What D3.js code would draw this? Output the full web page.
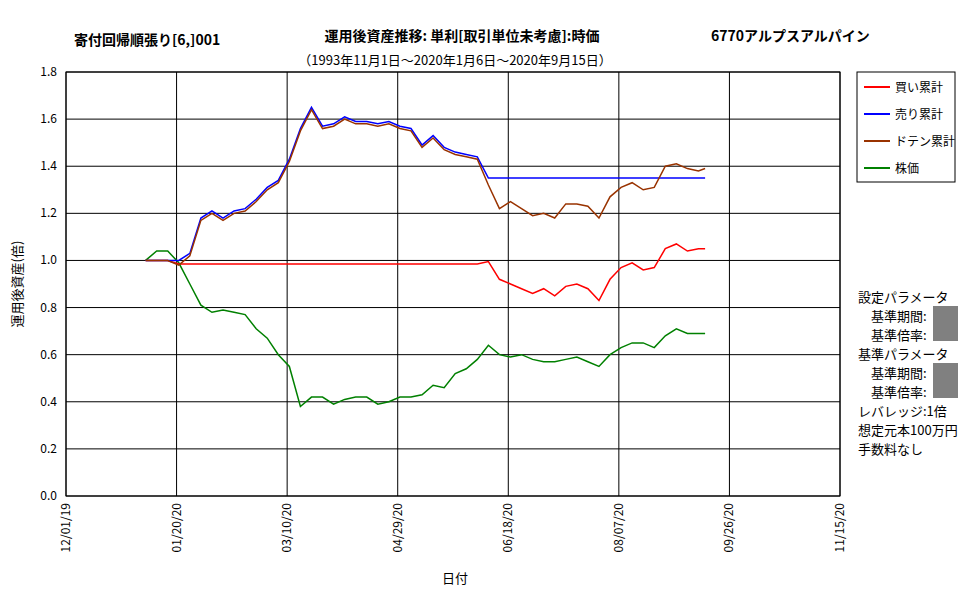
<!DOCTYPE html>
<html><head><meta charset="utf-8">
<script src="https://cdn.jsdelivr.net/npm/d3@7"></script>
<style>body{margin:0;background:#fff;font-family:"Noto Sans CJK JP",sans-serif}</style>
</head><body>
<script>
const dates = ["2020-01-06","2020-01-11","2020-01-16","2020-01-21","2020-01-26","2020-01-31","2020-02-05","2020-02-10","2020-02-15","2020-02-20","2020-02-25","2020-03-01","2020-03-06","2020-03-11","2020-03-16","2020-03-21","2020-03-26","2020-03-31","2020-04-05","2020-04-10","2020-04-15","2020-04-20","2020-04-25","2020-04-30","2020-05-05","2020-05-10","2020-05-15","2020-05-20","2020-05-25","2020-05-30","2020-06-04","2020-06-09","2020-06-14","2020-06-19","2020-06-24","2020-06-29","2020-07-04","2020-07-09","2020-07-14","2020-07-19","2020-07-24","2020-07-29","2020-08-03","2020-08-08","2020-08-13","2020-08-18","2020-08-23","2020-08-28","2020-09-02","2020-09-07","2020-09-12","2020-09-15"];
const buy = [1.00,1.00,1.00,0.985,0.985,0.985,0.985,0.985,0.985,0.985,0.985,0.985,0.985,0.985,0.985,0.985,0.985,0.985,0.985,0.985,0.985,0.985,0.985,0.985,0.985,0.985,0.985,0.985,0.985,0.985,0.985,0.995,0.92,0.90,0.88,0.86,0.88,0.85,0.89,0.90,0.88,0.83,0.92,0.97,0.99,0.96,0.97,1.05,1.07,1.04,1.05,1.05];
const sell = [1.00,1.00,1.00,1.00,1.03,1.18,1.21,1.18,1.21,1.22,1.26,1.31,1.34,1.43,1.56,1.65,1.57,1.58,1.61,1.59,1.59,1.58,1.59,1.57,1.56,1.49,1.53,1.48,1.46,1.45,1.44,1.35,1.35,1.35,1.35,1.35,1.35,1.35,1.35,1.35,1.35,1.35,1.35,1.35,1.35,1.35,1.35,1.35,1.35,1.35,1.35,1.35];
const doten = [1.00,1.00,1.00,0.98,1.02,1.17,1.20,1.17,1.20,1.21,1.25,1.30,1.33,1.42,1.55,1.64,1.56,1.57,1.60,1.58,1.58,1.57,1.58,1.56,1.55,1.48,1.52,1.47,1.45,1.44,1.43,1.32,1.22,1.25,1.22,1.19,1.20,1.18,1.24,1.24,1.23,1.18,1.27,1.31,1.33,1.30,1.31,1.40,1.41,1.39,1.38,1.39];
const price = [1.00,1.04,1.04,0.99,0.90,0.81,0.78,0.79,0.78,0.77,0.71,0.67,0.60,0.55,0.38,0.42,0.42,0.39,0.41,0.42,0.42,0.39,0.40,0.42,0.42,0.43,0.47,0.46,0.52,0.54,0.58,0.64,0.60,0.59,0.60,0.58,0.57,0.57,0.58,0.59,0.57,0.55,0.60,0.63,0.65,0.65,0.63,0.68,0.71,0.69,0.69,0.69];
const seriesNames = ["買い累計","売り累計","ドテン累計","株価"];
const seriesColors = ["#ff0000","#0000ff","#993300","#008000"];
const xTicks = ["2019-12-01","2020-01-20","2020-03-10","2020-04-29","2020-06-18","2020-08-07","2020-09-26","2020-11-15"];
const yTicks = [0,0.2,0.4,0.6,0.8,1.0,1.2,1.4,1.6,1.8];
const panelLines = ["設定パラメータ","　基準期間:","　基準倍率:","基準パラメータ","　基準期間:","　基準倍率:","レバレッジ:1倍","想定元本100万円","手数料なし"];

const W = 977, H = 600;
const svg = d3.select("body").append("svg").attr("width", W).attr("height", H);
const parse = d3.timeParse("%Y-%m-%d");
const x = d3.scaleTime().domain([parse(xTicks[0]), parse(xTicks[xTicks.length - 1])]).range([66, 840]);
const y = d3.scaleLinear().domain([0, 1.8]).range([496, 72]);

// grid
svg.append("g").selectAll("line").data(yTicks).join("line")
  .attr("x1", 66).attr("x2", 840).attr("y1", d => y(d)).attr("y2", d => y(d)).attr("stroke", "#000");
svg.append("g").selectAll("line").data(xTicks).join("line")
  .attr("y1", 72).attr("y2", 496).attr("x1", d => x(parse(d))).attr("x2", d => x(parse(d))).attr("stroke", "#000");
svg.append("rect").attr("x", 66).attr("y", 72).attr("width", 774).attr("height", 424).attr("fill", "none").attr("stroke", "#000");

svg.append("g").selectAll("text").data(yTicks).join("text")
  .attr("x", 57).attr("y", d => y(d) + 4).attr("text-anchor", "end").attr("font-size", 12).text(d => d.toFixed(1));
const fmt = d3.timeFormat("%m/%d/%y");
svg.append("g").selectAll("text").data(xTicks).join("text")
  .attr("transform", d => `translate(${x(parse(d)) + 4},503) rotate(-90)`)
  .attr("text-anchor", "end").attr("font-size", 12).text(d => fmt(parse(d)));

const data = [buy, sell, doten, price];
const line = d3.line().x((d, i) => x(parse(dates[i]))).y(d => y(d));
[3, 0, 1, 2].forEach(k => {
  svg.append("path").attr("d", line(data[k])).attr("fill", "none")
    .attr("stroke", seriesColors[k]).attr("stroke-width", 1.5);
});

// titles
svg.append("text").attr("x", 74).attr("y", 45).attr("font-size", 14).attr("font-weight", "bold").text("寄付回帰順張り[6,]001");
svg.append("text").attr("x", 462).attr("y", 41).attr("text-anchor", "middle").attr("font-size", 14).attr("font-weight", "bold").text("運用後資産推移: 単利[取引単位未考慮]:時価");
svg.append("text").attr("x", 455).attr("y", 65).attr("text-anchor", "middle").attr("font-size", 13).text("（1993年11月1日～2020年1月6日～2020年9月15日）");
svg.append("text").attr("x", 711).attr("y", 41).attr("font-size", 14).attr("font-weight", "bold").text("6770アルプスアルパイン");
svg.append("text").attr("x", 455).attr("y", 583).attr("text-anchor", "middle").attr("font-size", 13).text("日付");
svg.append("text").attr("transform", "translate(22,284) rotate(-90)").attr("text-anchor", "middle").attr("font-size", 13).text("運用後資産(倍)");

// legend
svg.append("rect").attr("x", 857).attr("y", 72).attr("width", 98).attr("height", 110).attr("fill", "#fff").attr("stroke", "#000");
const lg = svg.append("g").selectAll("g").data(seriesNames).join("g")
  .attr("transform", (d, i) => `translate(864,${87 + i * 27})`);
lg.append("line").attr("x2", 26).attr("stroke", (d, i) => seriesColors[i]).attr("stroke-width", 2);
lg.append("text").attr("x", 31).attr("y", 5).attr("font-size", 12).text(d => d);

// parameter panel
svg.append("g").selectAll("text").data(panelLines).join("text")
  .attr("x", 858).attr("y", (d, i) => 302 + i * 19).attr("font-size", 13).text(d => d);
[[933, 306], [933, 363]].forEach(p => svg.append("rect").attr("x", p[0]).attr("y", p[1])
  .attr("width", 25).attr("height", 35).attr("fill", "#808080"));
</script>
</body></html>
